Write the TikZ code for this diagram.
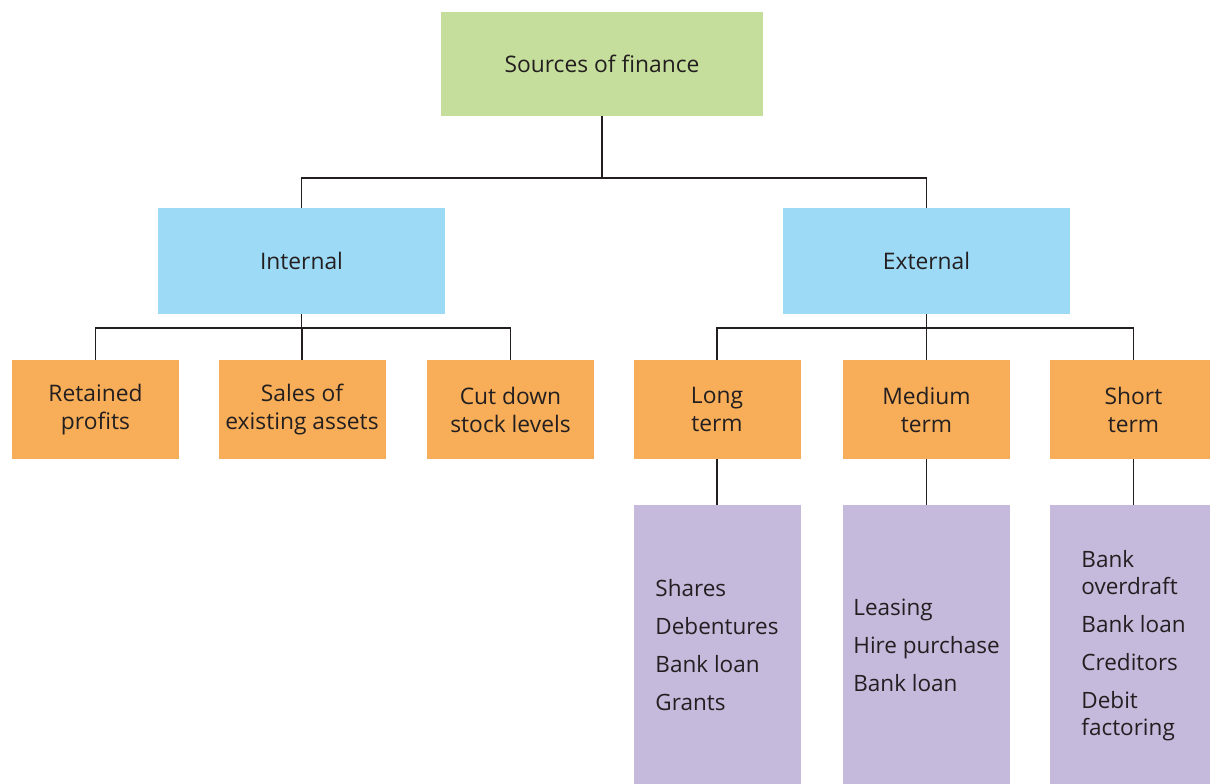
\documentclass[tikz,border=0pt]{standalone}
\usepackage{fontspec}
\setmainfont{Open Sans}
\definecolor{boxgreen}{HTML}{C5DE9C}
\definecolor{boxblue}{HTML}{9DDAF5}
\definecolor{boxorange}{HTML}{F8AE58}
\definecolor{boxpurple}{HTML}{C5B9DC}
\definecolor{ink}{HTML}{231F20}
\begin{document}
\begin{tikzpicture}[x=1pt,y=-1pt,
  box/.style={rectangle, inner sep=0pt, text=ink, align=center,
    font=\fontsize{22.8}{28}\selectfont},
  rootbox/.style={box, fill=boxgreen, minimum width=322pt, minimum height=104pt},
  groupbox/.style={box, fill=boxblue, minimum width=287pt, minimum height=106pt},
  leafbox/.style={box, fill=boxorange, minimum width=167pt, minimum height=99pt},
  listbox/.style={box, fill=boxpurple, align=left, minimum width=167pt,
    minimum height=281pt, font=\fontsize{22.5}{27}\selectfont},
  link/.style={draw=ink, line width=1.2pt}]
\useasboundingbox (0,0) rectangle (1210,784);
\begin{scope}
\clip (0,0) rectangle (1210,784);

% root and the two main groups
\node[rootbox] (src) at (602,64) {Sources of finance};
\node[groupbox] (int) at (301.5,261) {Internal};
\node[groupbox] (ext) at (926.5,261) {External};

% internal sources
\node[leafbox] (ret) at (95.5,409.5) {Retained\\profits};
\node[leafbox] (sal) at (302,409.5) {Sales of\\existing assets};
\node[leafbox] (cut) at (510.5,409.5) {Cut down\\stock levels};

% external sources by term
\node[leafbox] (lng) at (717,409.5) {Long\\term};
\node[leafbox] (med) at (926.5,409.5) {Medium\\term};
\node[leafbox] (sht) at (1133.5,409.5) {Short\\term};

% examples for each term
\node[listbox] (lngl) at (717,645.5) {Shares\\[11pt]Debentures\\[11pt]Bank loan\\[11pt]Grants};
\node[listbox] (medl) at (926.5,645.5) {Leasing\\[11pt]Hire purchase\\[11pt]Bank loan};
\node[listbox] (shtl) at (1133.5,645.5) {Bank\\overdraft\\[11pt]Bank loan\\[11pt]Creditors\\[11pt]Debit\\factoring};
\end{scope}

% tree connectors
\coordinate (j0) at (602,178);
\coordinate (j1) at (301.5,328);
\coordinate (j2) at (926.5,328);
\draw[link] (src.south) -- (j0);
\draw[link] (j0) -| (int.north);
\draw[link] (j0) -| (ext.north);

\draw[link] (int.south) -- (j1);
\draw[link] (j1) -| (ret.north);
\draw[link] (j1) -| (sal.north);
\draw[link] (j1) -| (cut.north);

\draw[link] (ext.south) -- (j2);
\draw[link] (j2) -| (lng.north);
\draw[link] (j2) -| (med.north);
\draw[link] (j2) -| (sht.north);

\draw[link] (lng.south) -- (lngl.north);
\draw[link] (med.south) -- (medl.north);
\draw[link] (sht.south) -- (shtl.north);
\end{tikzpicture}
\end{document}
